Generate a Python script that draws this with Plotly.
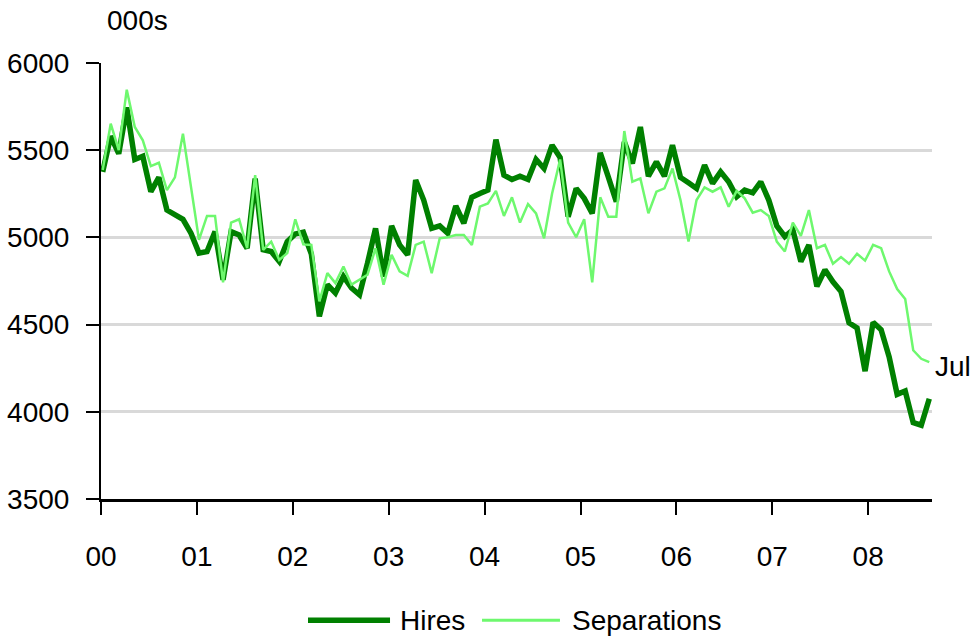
import plotly.graph_objects as go

# ---- data (thousands), monthly ----
hires = [5376, 5580, 5480, 5745, 5447, 5465, 5262, 5344, 5157, 5134, 5104, 5024, 4910, 4919, 5033, 4757,
         5033, 5014, 4938, 5338, 4929, 4919, 4862, 4976, 5020, 5030,
         4905, 4547, 4729, 4681, 4776, 4710, 4671, 4852, 5052, 4776, 5066, 4957, 4900, 5329, 5214, 5052,
         5066, 5024, 5180, 5081, 5230, 5252, 5271, 5561,
         5357, 5332, 5351, 5332, 5447, 5395, 5529, 5458, 5119, 5281, 5224, 5138, 5485, 5347, 5205, 5548,
         5424, 5633, 5351, 5433, 5351, 5529, 5344, 5313, 5281, 5414,
         5310, 5376, 5319, 5233, 5271, 5256, 5319, 5214, 5066, 5005, 5043, 4862, 4957, 4719, 4814, 4745,
         4690, 4510, 4481, 4233, 4513, 4471, 4315, 4100, 4119, 3938, 3923, 4075]

separations = [5386, 5652, 5500, 5847, 5633, 5557, 5409, 5428, 5271, 5344, 5595, 5290, 4986, 5123, 5123, 4742,
               5085, 5104, 4938, 5357, 4929, 4976, 4871, 4910, 5104, 4960,
               4957, 4633, 4795, 4738, 4833, 4729, 4757, 4786, 4938, 4729, 4900, 4805, 4780, 4957, 4976, 4795,
               4995, 5001, 5014, 5014, 4957, 5176, 5195, 5267,
               5123, 5230, 5085, 5191, 5138, 4995, 5252, 5447, 5085, 5001, 5104, 4742, 5230, 5119, 5119, 5610,
               5319, 5338, 5138, 5262, 5281, 5395, 5214, 4976, 5214, 5287,
               5262, 5287, 5176, 5267, 5224, 5142, 5157, 5123, 4976, 4919, 5085, 5009, 5157, 4938, 4957, 4849,
               4887, 4849, 4906, 4867, 4957, 4938, 4805, 4704, 4647, 4353, 4304, 4285]

year_labels = ["00", "01", "02", "03", "04", "05", "06", "07", "08"]
series_names = ["Hires", "Separations"]
last_label = "Jul"
unit_label = "000s"

months = list(range(len(hires)))

DARK = "#008000"
LIGHT = "#6ef86e"
FONT = "Liberation Sans, Arial, sans-serif"
FS = 28

X0 = -0.21
X1 = 103.34
year_step = 11.95
tickvals = [X0 + k * year_step for k in range(len(year_labels))]

fig = go.Figure()
fig.add_trace(go.Scatter(x=months, y=hires, mode="lines", name=series_names[0],
                         line=dict(color=DARK, width=5.5)))
fig.add_trace(go.Scatter(x=months, y=separations, mode="lines", name=series_names[1],
                         line=dict(color=LIGHT, width=2.5)))

fig.update_layout(
    width=973, height=638,
    margin=dict(l=101, r=41, t=63, b=139, autoexpand=False),
    plot_bgcolor="white", paper_bgcolor="white",
    showlegend=False,
    font=dict(family=FONT, size=FS, color="black"),
)
fig.update_xaxes(range=[X0, X1], tickvals=tickvals, ticktext=year_labels,
                 ticks="outside", ticklen=13, tickwidth=2, tickcolor="black",
                 showline=True, linecolor="black", linewidth=2.5,
                 showgrid=False, zeroline=False, automargin=False, ticklabelstandoff=18)
fig.update_yaxes(range=[3500, 6000], tick0=3500, dtick=500,
                 ticks="outside", ticklen=13, tickwidth=2, tickcolor="black",
                 showline=True, linecolor="black", linewidth=2,
                 showgrid=True, gridcolor="#d9d9d9", gridwidth=2.5,
                 zeroline=False, ticklabelstandoff=11, automargin=False)

fig.add_annotation(x=len(hires) - 1, y=separations[-1], text=last_label, showarrow=False,
                   xanchor="left", yanchor="middle", xshift=4, yshift=-4,
                   font=dict(size=FS, family=FONT, color="black"))
fig.add_annotation(x=0.005, y=1.0985, xref="paper", yref="paper", text=unit_label,
                   showarrow=False, xanchor="left", yanchor="middle",
                   font=dict(size=FS, family=FONT, color="black"))

# legend drawn below the plot
leg_y = -0.278
fig.add_shape(type="line", xref="paper", yref="paper", x0=0.2491, x1=0.3478, y0=leg_y, y1=leg_y,
              line=dict(color=DARK, width=5.5))
fig.add_annotation(x=0.3574, y=leg_y, xref="paper", yref="paper", text=series_names[0],
                   showarrow=False, xanchor="left", yanchor="middle",
                   font=dict(size=FS, family=FONT, color="black"))
fig.add_shape(type="line", xref="paper", yref="paper", x0=0.4585, x1=0.5523, y0=leg_y, y1=leg_y,
              line=dict(color=LIGHT, width=3))
fig.add_annotation(x=0.5644, y=leg_y, xref="paper", yref="paper", text=series_names[1],
                   showarrow=False, xanchor="left", yanchor="middle",
                   font=dict(size=FS, family=FONT, color="black"))

fig.write_html("out.html", config={"displayModeBar": False},
               post_script="document.body.style.margin='0';document.body.style.overflow='hidden';")
